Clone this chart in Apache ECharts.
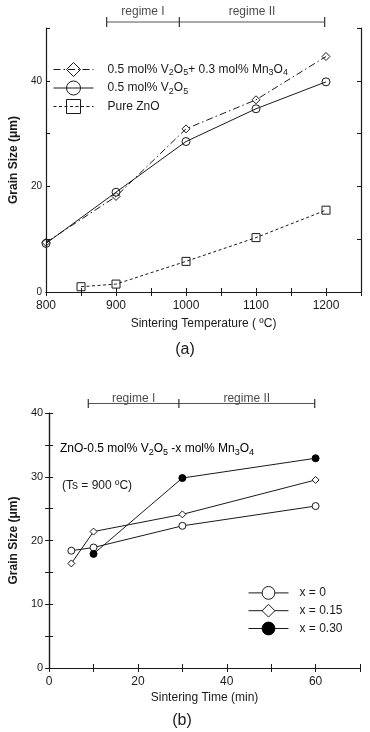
<!DOCTYPE html>
<html><head><meta charset="utf-8">
<script src="https://cdn.jsdelivr.net/npm/echarts@6/dist/echarts.min.js"></script>
<style>html,body{margin:0;padding:0;background:#fff}#c{width:370px;height:732px}</style>
</head><body><div id="c"></div><script>
// ---- Panel (a): grain size vs sintering temperature ----
const tempsA = [800, 900, 1000, 1100, 1200];
const sizeMnA = [9.4, 18.1, 30.9, 36.4, 44.6];
const sizeVA = [9.2, 18.9, 28.5, 34.7, 39.8];
const tempsZnO = [850, 900, 1000, 1100, 1200];
const sizeZnO = [1.0, 1.5, 5.8, 10.3, 15.5];
const regimeBoundsA = [900, 1000, 1200];
const namesA = ['0.5 mol% V2O5 + 0.3 mol% Mn3O4', '0.5 mol% V2O5', 'Pure ZnO'];
// ---- Panel (b): grain size vs sintering time ----
const timesB = [5, 10, 30, 60];
const sizeX0 = [18.4, 18.9, 22.3, 25.4];
const sizeX015 = [16.4, 21.4, 24.1, 29.5];
const timesX030 = [10, 30, 60];
const sizeX030 = [17.9, 29.8, 32.9];
const regimeBoundsB = [10, 30, 60];
const namesB = ['x = 0', 'x = 0.15', 'x = 0.30'];
const regimeNames = ['regime I', 'regime II'];

const FONT = '"Liberation Sans", Arial, Helvetica, sans-serif';
const INK = '#1a1a1a';
const richNames = {
  '0.5 mol% V2O5 + 0.3 mol% Mn3O4': '{t|0.5 mol% V}{s|2}{t|O}{s|5}{t|+ 0.3 mol% Mn}{s|3}{t|O}{s|4}',
  '0.5 mol% V2O5': '{t|0.5 mol% V}{s|2}{t|O}{s|5}',
  'Pure ZnO': '{t|Pure ZnO}'
};
const rich = {
  t: {fontSize: 12, lineHeight: 16, color: INK, fontFamily: FONT},
  s: {fontSize: 9, lineHeight: 9, color: INK, fontFamily: FONT, verticalAlign: 'bottom'}
};
const pairs = (xs, ys) => xs.map((x, i) => [x, ys[i]]);
const mids = b => b.slice(0, -1).map((v, i) => [(v + b[i + 1]) / 2, 0.5, regimeNames[i]]);

function xAx(grid, min, max, interval, labelStep, labelMax, opts) {
  return Object.assign({
    type: 'value', gridIndex: grid, min, max, interval,
    axisLine: {show: true, lineStyle: {color: INK, width: 1.2}},
    axisTick: {show: true, inside: true, length: 4, lineStyle: {color: INK}},
    splitLine: {show: false},
    axisLabel: {show: true, fontSize: 12, fontFamily: FONT, color: INK, margin: 8,
      formatter: v => (v % labelStep === 0 && v <= labelMax) ? String(v) : ''}
  }, opts || {});
}
function mirror(grid, min, max, interval, pos) {
  return {
    type: 'value', gridIndex: grid, min, max, interval, position: pos,
    axisLine: {show: true, lineStyle: {color: INK, width: 1.2}},
    axisTick: {show: true, inside: true, length: 4, lineStyle: {color: INK}},
    splitLine: {show: false}, axisLabel: {show: false}
  };
}
function hidden(grid, min, max) {
  return {type: 'value', gridIndex: grid, min, max, show: false, splitLine: {show: false}};
}

const option = {
  animation: false,
  backgroundColor: '#fff',
  grid: [
    {left: 34, top: 28, width: 327, height: 264},
    {left: 34, top: 12, width: 327, height: 20},
    {left: 43, top: 413, width: 317, height: 255},
    {left: 43, top: 393.5, width: 317, height: 20}
  ],
  xAxis: [
    xAx(0, 800, 1250, 50, 100, 1200, {position: 'bottom', name: 'Sintering Temperature ( \u00BAC)',
      nameLocation: 'middle', nameGap: 26, nameTextStyle: {fontSize: 12, fontFamily: FONT, color: INK}}),
    mirror(0, 800, 1250, 50, 'top'),
    hidden(1, 800, 1250),
    xAx(2, 0, 70, 10, 20, 60, {position: 'bottom', name: 'Sintering Time (min)',
      nameLocation: 'middle', nameGap: 24, nameTextStyle: {fontSize: 12, fontFamily: FONT, color: INK}}),
    mirror(2, 0, 70, 10, 'top'),
    hidden(3, 0, 70)
  ],
  yAxis: [
    xAx(0, 0, 50, 10, 20, 40, {position: 'left', name: 'Grain Size (\u03BCm)', nameLocation: 'middle', nameGap: 19,
      nameTextStyle: {fontSize: 12, fontWeight: 'bold', fontFamily: FONT, color: INK},
      axisLabel: {fontSize: 10, fontFamily: FONT, color: INK, margin: 4,
        formatter: v => (v % 20 === 0 && v <= 40) ? String(v) : ''}}),
    mirror(0, 0, 50, 10, 'right'),
    hidden(1, 0, 1),
    xAx(2, 0, 40, 5, 10, 40, {position: 'left', name: 'Grain Size (\u03BCm)', nameLocation: 'middle', nameGap: 25,
      nameTextStyle: {fontSize: 12, fontWeight: 'bold', fontFamily: FONT, color: INK},
      axisLabel: {fontSize: 11, fontFamily: FONT, color: INK, margin: 6,
        formatter: v => (v % 10 === 0) ? String(v) : ''}}),
    mirror(2, 0, 40, 5, 'right'),
    hidden(3, 0, 1)
  ],
  legend: [
    {data: namesA, orient: 'vertical', left: 48, top: 57, itemWidth: 40, itemHeight: 17.5, itemGap: 3,
      selectedMode: false, formatter: n => richNames[n], itemStyle: {borderWidth: 1},
      lineStyle: {width: 1},
      textStyle: {padding: [0, 0, 0, 9], rich: rich}},
    {data: namesB, orient: 'vertical', left: 243, top: 581, itemWidth: 40, itemHeight: 16, itemGap: 4,
      selectedMode: false, itemStyle: {borderWidth: 1}, lineStyle: {width: 1},
      textStyle: {fontSize: 12, fontFamily: FONT, color: INK, padding: [0, 0, 0, 6]}}
  ],
  series: [
    {name: namesA[0], type: 'line', xAxisIndex: 0, yAxisIndex: 0, data: pairs(tempsA, sizeMnA),
      symbol: 'diamond', symbolSize: 8, lineStyle: {color: INK, width: 1, type: [7, 3, 1.5, 3]},
      itemStyle: {color: 'rgba(255,255,255,0)', borderColor: INK, borderWidth: 1}},
    {name: namesA[1], type: 'line', xAxisIndex: 0, yAxisIndex: 0, data: pairs(tempsA, sizeVA),
      symbol: 'circle', symbolSize: 8, lineStyle: {color: INK, width: 1, type: 'solid'},
      itemStyle: {color: 'rgba(255,255,255,0)', borderColor: INK, borderWidth: 1}},
    {name: namesA[2], type: 'line', xAxisIndex: 0, yAxisIndex: 0, data: pairs(tempsZnO, sizeZnO),
      symbol: 'rect', symbolSize: 8, lineStyle: {color: INK, width: 1, type: [3, 2.5]},
      itemStyle: {color: 'rgba(255,255,255,0)', borderColor: INK, borderWidth: 1}},
    {type: 'line', xAxisIndex: 2, yAxisIndex: 2, data: regimeBoundsA.map(v => [v, 0.5]),
      symbol: 'rect', symbolSize: [1.2, 10], itemStyle: {color: '#333'}, lineStyle: {color: '#555', width: 1}},
    {type: 'scatter', xAxisIndex: 2, yAxisIndex: 2, data: mids(regimeBoundsA), symbolSize: 1,
      itemStyle: {color: 'rgba(0,0,0,0)'},
      label: {show: true, position: 'top', distance: 4, formatter: p => p.data[2], fontSize: 12, fontFamily: FONT, color: INK}},
    {name: namesB[0], type: 'line', xAxisIndex: 3, yAxisIndex: 3, data: pairs(timesB, sizeX0),
      symbol: 'circle', symbolSize: 7, lineStyle: {color: INK, width: 1},
      itemStyle: {color: '#fff', borderColor: INK, borderWidth: 1}},
    {name: namesB[1], type: 'line', xAxisIndex: 3, yAxisIndex: 3, data: pairs(timesB, sizeX015),
      symbol: 'diamond', symbolSize: 7, lineStyle: {color: INK, width: 1},
      itemStyle: {color: '#fff', borderColor: INK, borderWidth: 1}},
    {name: namesB[2], type: 'line', xAxisIndex: 3, yAxisIndex: 3, data: pairs(timesX030, sizeX030),
      symbol: 'circle', symbolSize: 7, lineStyle: {color: INK, width: 1},
      itemStyle: {color: '#000', borderColor: '#000', borderWidth: 1}},
    {type: 'line', xAxisIndex: 5, yAxisIndex: 5, data: regimeBoundsB.map(v => [v, 0.5]),
      symbol: 'rect', symbolSize: [1.2, 9], itemStyle: {color: '#333'}, lineStyle: {color: '#555', width: 1}},
    {type: 'scatter', xAxisIndex: 5, yAxisIndex: 5, data: mids(regimeBoundsB), symbolSize: 1,
      itemStyle: {color: 'rgba(0,0,0,0)'},
      label: {show: true, position: 'top', distance: -2, formatter: p => p.data[2], fontSize: 12, fontFamily: FONT, color: INK}}
  ],
  graphic: [
    {type: 'text', left: 60, top: 443, style: {
      text: '{t|ZnO-0.5 mol% V}{s|2}{t|O}{s|5}{t| -x mol% Mn}{s|3}{t|O}{s|4}', rich: rich}},
    {type: 'text', left: 62, top: 480, style: {text: '(Ts = 900 \u00BAC)', fontSize: 12, fontFamily: FONT, fill: INK}},
    {type: 'text', x: 185, y: 350, style: {text: '(a)', fontSize: 16, fontFamily: FONT, fill: INK, align: 'center', verticalAlign: 'middle'}},
    {type: 'text', x: 182, y: 721, style: {text: '(b)', fontSize: 16, fontFamily: FONT, fill: INK, align: 'center', verticalAlign: 'middle'}}
  ]
};
const chart = echarts.init(document.getElementById('c'), null, {renderer: 'canvas'});
chart.setOption(option);
</script></body></html>
